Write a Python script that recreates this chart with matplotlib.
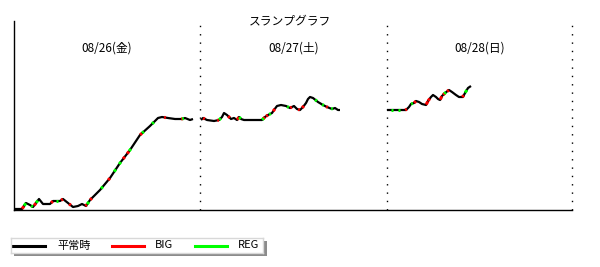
import numpy as np
import matplotlib
matplotlib.use("Agg")
import matplotlib.pyplot as plt
from matplotlib.patches import Rectangle

plt.rcParams['font.family'] = ['Noto Sans CJK JP', 'DejaVu Sans']

# slump data, one array per day (x = game position, y = coin balance)
day1_x = [0, 8, 12, 16, 19, 22, 25, 29, 36, 39, 46, 49, 54, 59, 64, 68, 72, 76, 86, 96,
          106, 116, 126, 136, 144, 148, 154, 161, 168, 171, 176, 179]
day1_y = [1, 1, 7, 5, 3, 7, 11, 6, 6, 9, 9, 11, 7, 3, 4, 6, 4, 10, 20, 32,
          47, 60, 75, 84, 92, 93, 92, 91, 91, 92, 90, 91]
day2_x = [187, 189, 193, 200, 205, 208, 210, 213, 217, 220, 223, 225, 227, 230, 248, 251,
          254, 258, 260, 263, 267, 272, 276, 280, 283, 286, 289, 292, 294, 296, 299, 304,
          309, 313, 318, 321, 324, 326]
day2_y = [90, 92, 90, 89, 90, 93, 97, 95, 91, 92, 90, 93, 91, 90, 90, 93,
          95, 97, 100, 104, 105, 104, 102, 104, 101, 100, 103, 107, 111, 113, 112, 108,
          105, 103, 101, 102, 100, 100]
day3_x = [373, 386, 392, 395, 397, 400, 402, 405, 408, 412, 414, 417, 419, 422, 424, 426,
          428, 431, 435, 438, 442, 445, 449, 451, 454, 457]
day3_y = [100, 100, 100, 103, 106, 107, 109, 108, 106, 105, 109, 113, 115, 113, 111, 110,
          114, 117, 120, 118, 115, 113, 113, 117, 122, 124]

# bonus hits (game positions)
big_hits = [9, 21, 38, 48, 56, 72, 77, 95, 110, 114, 127, 151, 168,
            190, 204, 215, 224, 250, 253, 260, 277, 285, 289, 313,
            392, 401, 413, 415, 427, 430, 434, 449]
reg_hits = [11, 18, 23, 43, 74, 88, 101, 106, 116, 129, 139, 169,
            206, 226, 249, 256, 274, 302, 309, 318,
            378, 385, 398, 431, 452]

day_labels = ['08/26(金)', '08/27(土)', '08/28(日)']
day_edges = [0, 186, 373, 558]
legend_labels = ['平常時', 'BIG', 'REG']
legend_colors = ['black', 'red', '#00ff00']

fig = plt.figure(figsize=(6, 2.67), dpi=100)
ax = fig.add_axes([14 / 600, 57 / 267, 558 / 600, 189 / 267])
ax.set_xlim(day_edges[0], day_edges[-1])
ax.set_ylim(0, 189)

days = [(day1_x, day1_y), (day2_x, day2_y), (day3_x, day3_y)]
for dx, dy in days:
    ax.plot(dx, dy, color='black', lw=1.6, solid_capstyle='butt', zorder=3)

# bonus marks drawn as short colored pieces of the line
for hits, col in [(big_hits, 'red'), (reg_hits, '#00ff00')]:
    for h in hits:
        for dx, dy in days:
            if dx[0] <= h <= dx[-1]:
                xs = np.array([h - 0.8, h + 0.8])
                ax.plot(xs, np.interp(xs, dx, dy), color=col, lw=2.2,
                        solid_capstyle='butt', zorder=4)

for e in day_edges[1:]:
    ax.axvline(e, color='black', lw=1, ls=(0, (1, 5)), clip_on=False)

for i, lab in enumerate(day_labels):
    ax.text((day_edges[i] + day_edges[i + 1]) / 2, 162, lab, ha='center', va='center',
            fontsize=8.5)

for s in ['top', 'right']:
    ax.spines[s].set_visible(False)
ax.spines['left'].set_linewidth(1)
ax.spines['bottom'].set_linewidth(1)
ax.set_xticks([])
ax.set_yticks([])

fig.text(290 / 600, 1 - 21 / 267, 'スランプグラフ', ha='center', va='center', fontsize=8.5)

# legend box with shadow
shadow = Rectangle((14 / 600, 1 - 256 / 267), 253 / 600, 15 / 267, transform=fig.transFigure,
                   facecolor='#8c8c8c', edgecolor='none', zorder=1)
fig.patches.append(shadow)
lax = fig.add_axes([11 / 600, 1 - 253 / 267, 252 / 600, 15 / 267])
lax.set_zorder(5)
lax.set_facecolor('white')
lax.set_xlim(0, 252)
lax.set_ylim(0, 15)
lax.set_xticks([])
lax.set_yticks([])
for s in lax.spines.values():
    s.set_color('#d8d8d8')
    s.set_linewidth(1)
line_x = [2, 101, 184]
text_x = [46, 144, 227]
for lx, tx, lab, col in zip(line_x, text_x, legend_labels, legend_colors):
    lax.plot([lx, lx + 32], [7.5, 7.5], color=col, lw=2.2)
    lax.text(tx, 7.5, lab, ha='left', va='center', fontsize=8)

fig.savefig('out.png', dpi=100)
